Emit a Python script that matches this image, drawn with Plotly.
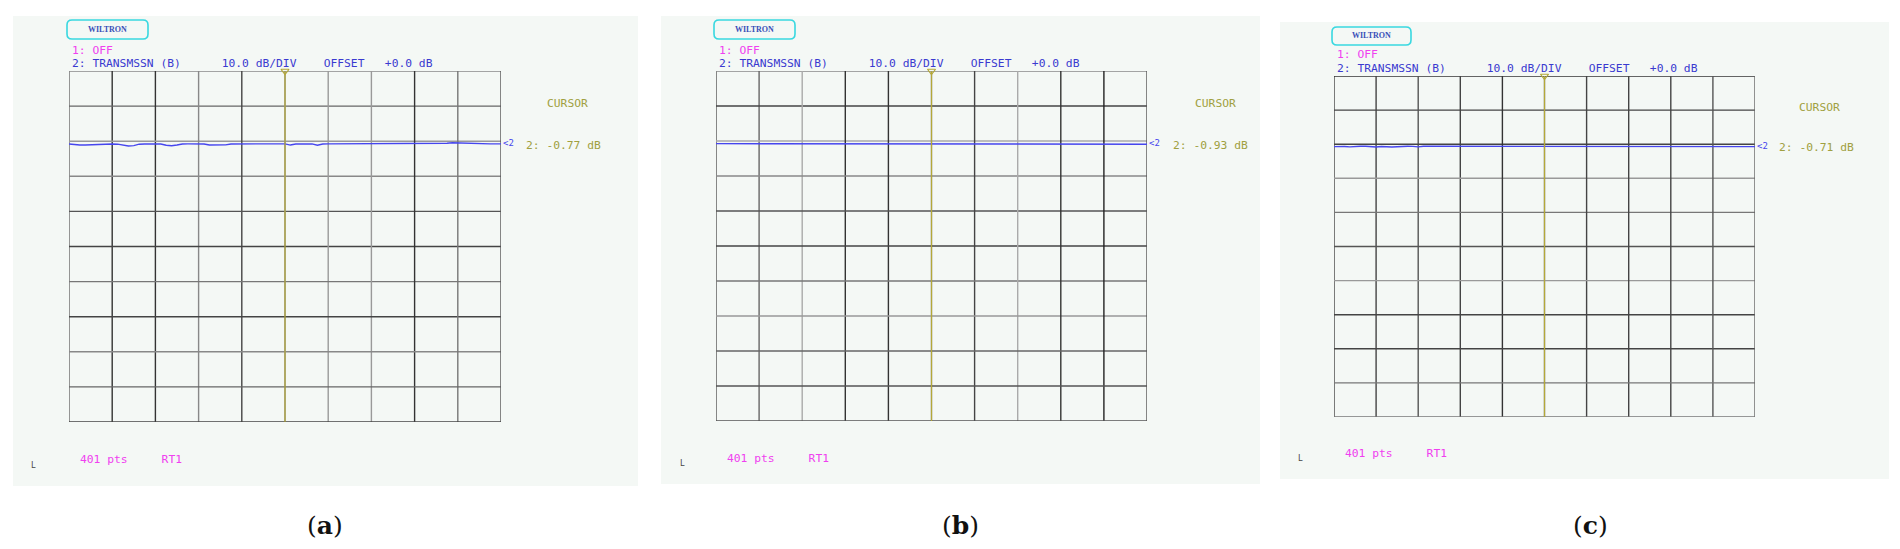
import plotly.graph_objects as go

W, H = 1900, 549

# ---------------- data ----------------
FREQ_IDX = list(range(0, 401, 5))          # 401-point sweep, sampled every 5 points
Y_TOP, Y_BOTTOM = 20, -80                   # 10.0 dB/DIV, 10 divisions
X_MIN, X_MAX = 0, 400
CURSOR_IDX = 200

trace_a = [
    -0.80, -1.05, -1.10, -1.10, -1.05, -0.80, -0.78, -0.77, -0.78, -0.85,
    -1.20, -1.35, -1.25, -0.85, -0.78, -0.77, -0.78, -0.80, -1.15, -1.30,
    -1.10, -0.78, -0.77, -0.77, -0.78, -0.80, -1.10, -1.15, -1.15, -1.05,
    -0.78, -0.77, -0.77, -0.78, -0.77, -0.77, -0.77, -0.78, -0.77, -0.77,
    -0.77, -1.10, -0.80, -0.78, -0.77, -0.78, -1.15, -0.80, -0.77, -0.77,
    -0.78, -0.77, -0.77, -0.78, -0.77, -0.77, -0.78, -0.77, -0.77, -0.77,
    -0.78, -0.77, -0.77, -0.76, -0.77, -0.77, -0.76, -0.77, -0.77, -0.75,
    -0.60, -0.45, -0.50, -0.72, -0.77, -0.77, -0.76, -0.77, -0.77, -0.77,
    -0.77]

trace_b = [
    -0.75, -0.75, -0.80, -0.95, -0.95, -0.95, -0.95, -0.85, -0.75, -0.75,
    -0.75, -0.90, -0.95, -0.95, -0.95, -0.95, -0.78, -0.75, -0.75, -0.88,
    -0.95, -0.95, -0.95, -0.95, -0.95, -0.75, -0.85, -0.95, -0.95, -0.95,
    -0.95, -0.95, -0.95, -0.95, -0.95, -0.75, -0.75, -0.78, -0.93, -0.93,
    -0.93, -0.93, -0.95, -0.95, -0.95, -0.95, -0.95, -0.95, -0.95, -0.95,
    -0.95, -0.95, -0.85, -0.75, -0.75, -0.75, -0.75, -0.75, -0.85, -0.95,
    -0.95, -0.95, -0.95, -0.95, -0.75, -0.75, -0.78, -0.95, -0.95, -0.95,
    -0.95, -0.85, -0.75, -0.75, -0.80, -0.95, -0.95, -0.95, -0.95, -0.95,
    -0.93]

trace_c = [
    -0.70, -0.65, -0.68, -0.78, -0.62, -0.62, -0.62, -0.75, -0.80, -0.66,
    -0.80, -0.80, -0.75, -0.62, -0.62, -0.64, -0.78, -0.60, -0.60, -0.72,
    -0.80, -0.80, -0.64, -0.64, -0.64, -0.78, -0.82, -0.82, -0.80, -0.80,
    -0.78, -0.70, -0.72, -0.80, -0.80, -0.76, -0.68, -0.75, -0.80, -0.80,
    -0.71, -0.76, -0.66, -0.68, -0.72, -0.80, -0.76, -0.66, -0.78, -0.80,
    -0.80, -0.80, -0.78, -0.64, -0.62, -0.62, -0.62, -0.65, -0.80, -0.68,
    -0.78, -0.68, -0.78, -0.75, -0.64, -0.62, -0.64, -0.78, -0.80, -0.80,
    -0.80, -0.78, -0.80, -0.80, -0.78, -0.80, -0.80, -0.78, -0.80, -0.78,
    -0.71]

cursor_readouts = ["2: -0.77 dB", "2: -0.93 dB", "2: -0.71 dB"]
panel_letters = ["a", "b", "c"]
header_off = "1: OFF"
header_ch2 = "2: TRANSMSSN (B)      10.0 dB/DIV    OFFSET   +0.0 dB"
footer_txt = "401 pts     RT1"
cursor_title = "CURSOR"
logo_txt = "WILTRON"
channel_tag = "&lt;2"

# ---------------- layout (pixel geometry) ----------------
panels = [
    dict(bg=(13, 16, 638, 486), grid=(69, 71, 501, 422), logo=(67, 20, 148, 39),
         off=(70, 51), ch2=(70, 63), cur=(545, 103), read=(524, 146),
         pts=(78, 459), L=(29, 465), lab=(325, 525),
         vcol=['#6a6a6a', '#333', '#333', '#888', '#444', '#888', '#999', '#999', '#333', '#777', '#555'],
         hcol=['#888', '#666', '#999', '#888', '#555', '#444', '#777', '#444', '#888', '#666', '#444']),
    dict(bg=(661, 16, 1260, 484), grid=(716, 71, 1147, 421), logo=(714, 20, 795, 39),
         off=(717, 51), ch2=(717, 63), cur=(1193, 103), read=(1171, 145),
         pts=(725, 458), L=(678, 463), lab=(960, 525),
         vcol=['#555', '#666', '#aaa', '#333', '#333', '#888', '#444', '#aaa', '#333', '#222', '#555'],
         hcol=['#888', '#444', '#aaa', '#888', '#555', '#444', '#777', '#999', '#666', '#555', '#555']),
    dict(bg=(1280, 22, 1889, 479), grid=(1334, 76, 1755, 417), logo=(1332, 27, 1411, 45),
         off=(1335, 54), ch2=(1335, 68), cur=(1797, 107), read=(1777, 147),
         pts=(1343, 453), L=(1296, 458), lab=(1590, 525),
         vcol=['#444', '#444', '#555', '#444', '#333', '#777', '#444', '#444', '#444', '#555', '#666'],
         hcol=['#333', '#444', '#444', '#999', '#777', '#555', '#999', '#444', '#444', '#777', '#777']),
]
series = [trace_a, trace_b, trace_c]


def px(x):
    return x / W


def py(y):
    return 1 - y / H


MONO = "DejaVu Sans Mono"
MAG = '#f040f0'
BLUE = '#3a3ad0'
OLIVE = '#a0a040'
CUR_COL = '#b4a838'
TRACE_COL = '#4646ee'

fig = go.Figure()
shapes = []
annotations = []
layout_axes = {}


def txt(pos, s, color, size=11.3, fam=MONO):
    annotations.append(dict(x=px(pos[0]), y=py(pos[1]), xref='paper', yref='paper', text=s,
                            showarrow=False, xanchor='left', yanchor='middle',
                            font=dict(family=fam, size=size, color=color)))


for i, (p, vals) in enumerate(zip(panels, series)):
    n = '' if i == 0 else str(i + 1)
    xa, ya = 'x' + n, 'y' + n
    gx0, gy0, gx1, gy1 = p['grid']
    layout_axes['xaxis' + n] = dict(domain=[px(gx0), px(gx1)], range=[X_MIN, X_MAX], anchor=ya,
                                    visible=False, fixedrange=True)
    layout_axes['yaxis' + n] = dict(domain=[py(gy1), py(gy0)], range=[Y_BOTTOM, Y_TOP], anchor=xa,
                                    visible=False, fixedrange=True)

    # panel background
    bx0, by0, bx1, by1 = p['bg']
    shapes.append(dict(type='rect', xref='paper', yref='paper', x0=px(bx0), x1=px(bx1),
                       y0=py(by1), y1=py(by0), fillcolor='#f4f8f5', line=dict(width=0), layer='below'))
    # grid
    for k in range(11):
        xv = X_MIN + k * (X_MAX - X_MIN) / 10
        shapes.append(dict(type='line', xref=xa, yref=ya, x0=xv, x1=xv, y0=Y_BOTTOM, y1=Y_TOP,
                           line=dict(color=p['vcol'][k], width=1.4), layer='below'))
        yv = Y_TOP - k * 10
        shapes.append(dict(type='line', xref=xa, yref=ya, x0=X_MIN, x1=X_MAX, y0=yv, y1=yv,
                           line=dict(color=p['hcol'][k], width=1.4), layer='below'))
    # cursor
    shapes.append(dict(type='line', xref=xa, yref=ya, x0=CURSOR_IDX, x1=CURSOR_IDX, y0=Y_BOTTOM, y1=Y_TOP,
                       line=dict(color=CUR_COL, width=1.2), layer='above'))

    # trace
    fig.add_trace(go.Scatter(x=FREQ_IDX, y=vals, mode='lines', xaxis=xa, yaxis=ya,
                             line=dict(color=TRACE_COL, width=1.4), hoverinfo='skip', showlegend=False))
    # cursor marker triangle
    fig.add_trace(go.Scatter(x=[CURSOR_IDX], y=[Y_TOP], mode='markers', xaxis=xa, yaxis=ya,
                             marker=dict(symbol='triangle-down-open', size=7, color=CUR_COL,
                                         line=dict(width=1.2, color=CUR_COL)),
                             cliponaxis=False, hoverinfo='skip', showlegend=False))
    # channel marker at end of trace
    annotations.append(dict(x=X_MAX, y=vals[-1], xref=xa, yref=ya, text=channel_tag,
                            showarrow=False, xanchor='left', yanchor='bottom', yshift=-6,
                            font=dict(family=MONO, size=9, color=TRACE_COL)))

    # logo
    lx0, ly0, lx1, ly1 = p['logo']
    r = 5
    path = (f"M {px(lx0 + r)},{py(ly0)} L {px(lx1 - r)},{py(ly0)} "
            f"Q {px(lx1)},{py(ly0)} {px(lx1)},{py(ly0 + r)} L {px(lx1)},{py(ly1 - r)} "
            f"Q {px(lx1)},{py(ly1)} {px(lx1 - r)},{py(ly1)} L {px(lx0 + r)},{py(ly1)} "
            f"Q {px(lx0)},{py(ly1)} {px(lx0)},{py(ly1 - r)} L {px(lx0)},{py(ly0 + r)} "
            f"Q {px(lx0)},{py(ly0)} {px(lx0 + r)},{py(ly0)} Z")
    shapes.append(dict(type='path', xref='paper', yref='paper', path=path,
                       line=dict(color='#38d8e0', width=1.6), fillcolor='rgba(0,0,0,0)'))
    annotations.append(dict(x=px((lx0 + lx1) / 2), y=py((ly0 + ly1) / 2), xref='paper', yref='paper',
                            text=f"<b>{logo_txt}</b>", showarrow=False, xanchor='center', yanchor='middle',
                            font=dict(family='Liberation Serif', size=8, color='#3850b8')))

    txt(p['off'], header_off, MAG)
    txt(p['ch2'], header_ch2.replace(' ', '&nbsp;'), BLUE)
    txt(p['cur'], cursor_title, OLIVE)
    txt(p['read'], cursor_readouts[i].replace(' ', '&nbsp;'), OLIVE)
    txt(p['pts'], footer_txt.replace(' ', '&nbsp;'), MAG)
    txt(p['L'], 'L', '#444', size=8)

    annotations.append(dict(x=px(p['lab'][0]), y=py(p['lab'][1]), xref='paper', yref='paper',
                            text=f"(<b>{panel_letters[i]}</b>)", showarrow=False,
                            xanchor='center', yanchor='middle',
                            font=dict(family='DejaVu Serif', size=25, color='#111')))

fig.update_layout(
    width=W, height=H, autosize=False,
    margin=dict(l=0, r=0, t=0, b=0),
    paper_bgcolor='white', plot_bgcolor='rgba(0,0,0,0)',
    shapes=shapes, annotations=annotations,
    **layout_axes,
)

fig.write_html("out.html", config={"displayModeBar": False},
               post_script="document.body.style.margin='0';document.body.style.overflow='hidden';")
